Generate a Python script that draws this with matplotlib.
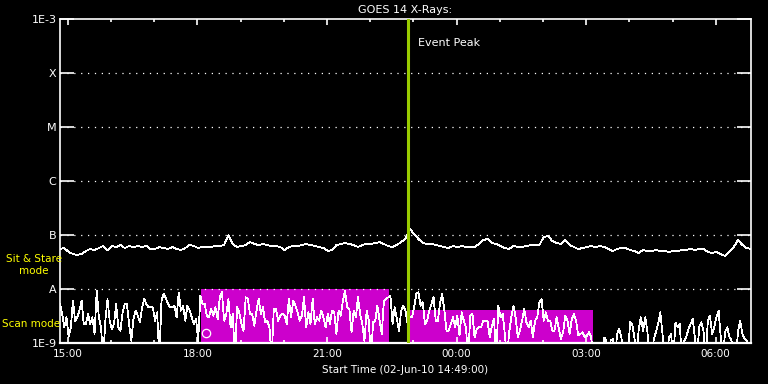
import numpy as np
import matplotlib
matplotlib.use("Agg")
import matplotlib.pyplot as plt
from matplotlib.ticker import FixedLocator, NullLocator

# ---- data -------------------------------------------------------------
start_hour = 14 + 49 / 60.0          # 02-Jun-10 14:49:00
span_hours = 16.0

# GOES long channel (1-8 A), 6-minute samples, units of 1e-8 W/m^2
upper_flux = [
    5.50, 5.74, 4.84, 4.45, 4.26, 4.45, 5.06, 5.50, 5.27, 5.74,
    6.25, 5.27, 6.25, 5.99, 6.53, 5.74, 6.25, 5.99, 6.25, 5.99,
    6.25, 5.50, 5.50, 5.99, 5.74, 5.50, 5.99, 5.50, 5.27, 5.74,
    6.53, 6.25, 5.74, 5.99, 5.99, 5.99, 6.25, 6.25, 6.53, 10.0,
    6.81, 5.99, 6.25, 6.53, 7.41, 6.81, 6.53, 6.81, 6.53, 6.25,
    6.25, 5.99, 5.27, 5.99, 6.25, 6.25, 6.53, 6.81, 6.53, 6.25,
    5.99, 5.74, 5.06, 5.27, 6.53, 6.81, 7.10, 6.81, 6.53, 5.99,
    6.53, 6.81, 6.81, 7.10, 7.41, 6.81, 6.25, 5.99, 6.53, 7.41,
    8.43, 12.9, 10.4, 8.43, 7.10, 6.81, 6.81, 6.53, 6.25, 5.99,
    5.74, 6.25, 5.99, 6.25, 5.99, 5.99, 5.99, 6.81, 8.07, 8.43,
    7.10, 6.81, 6.25, 5.74, 5.50, 6.25, 5.99, 5.99, 6.25, 6.53,
    6.53, 6.53, 9.18, 9.58, 7.74, 7.10, 6.81, 8.07, 6.53, 5.99,
    5.50, 5.74, 5.99, 6.25, 5.99, 6.25, 5.99, 5.50, 5.06, 5.50,
    5.74, 5.74, 5.27, 5.06, 4.64, 5.27, 5.06, 5.06, 5.27, 5.06,
    5.06, 4.84, 5.06, 5.06, 5.27, 5.27, 5.50, 5.27, 5.50, 5.50,
    4.84, 4.64, 4.84, 4.45, 4.08, 4.84, 5.99, 8.07, 6.53, 5.74, 5.50,
]

# GOES short channel (0.5-4 A), 3-minute samples, units of 1e-9 W/m^2
lower_flux = [
    5.27, 3.44, 1.95, 2.99, 1.3, 1.95, 6.08, 2.59, 2.99, 3.97,
    6.08, 2.25, 2.25, 3.44, 2.25, 2.99, 1.47, 9.3, 2.99, 1.95,
    0.5, 2.59, 6.53, 2.59, 1.82, 2.25, 5.27, 1.95, 1.69, 3.70,
    5.27, 5.27, 2.25, 1.10, 2.78, 3.97, 3.21, 2.41, 4.57, 6.53,
    5.27, 4.57, 4.57, 4.57, 2.59, 3.70, 0.5, 6.08, 8.08, 6.81,
    5.27, 4.57, 4.57, 4.91, 2.99, 8.67, 3.97, 4.91, 2.59, 4.91,
    4.08, 2.99, 2.25, 2.78, 1.10, 7.53, 5.27, 5.27, 3.21, 2.99,
    4.26, 3.21, 4.57, 2.78, 7.01, 8.67, 2.59, 3.44, 6.53, 1.95,
    3.44, 0.5, 4.57, 3.70, 2.25, 1.69, 7.01, 6.53, 3.44, 3.44,
    2.09, 3.97, 6.53, 3.44, 4.57, 2.41, 2.59, 1.95, 0.5, 4.26,
    4.26, 2.59, 3.21, 3.44, 3.21, 2.25, 6.53,
    2.99, 6.08, 4.91, 3.70, 2.59, 3.21, 7.01, 1.95, 3.70, 2.25,
    6.53, 2.25, 2.99, 2.59, 3.97, 2.99, 1.95, 3.44, 2.25, 3.97,
    3.70, 1.47, 3.97, 3.21, 6.08, 9.3, 4.57, 4.26, 1.58, 3.97,
    2.99, 7.01, 3.44, 2.25, 1.10, 3.97, 2.59, 0.5, 2.41, 2.59,
    4.91, 2.59, 1.47, 6.08, 6.53, 7.01, 7.53, 2.25, 4.57, 2.78,
    1.69, 3.97, 4.91, 3.97, 2.25, 2.99, 2.99, 4.57, 8.08, 8.67,
    4.91, 5.66, 2.25, 2.59, 3.97, 5.27, 7.01, 2.59, 2.59, 5.66,
    8.08, 3.97, 1.69, 1.69, 2.25, 2.99, 1.95, 3.21, 1.37, 3.70,
    2.59, 1.95, 0.5, 3.21, 3.44, 1.27, 1.82, 1.95, 1.95, 2.59,
    2.59, 2.59, 1.27, 2.09, 2.78, 0.5, 4.91, 2.99, 3.44, 1.47,
    0.5, 1.58, 2.99, 4.91, 2.99, 1.27, 1.69,
    2.59, 4.26, 2.41, 1.95, 2.59, 1.27, 2.59, 2.99, 5.66, 6.53,
    2.59, 3.70, 2.59, 2.59, 1.69, 1.69, 2.99, 1.82, 1.19, 1.58,
    3.21, 2.59, 1.47, 2.78, 3.44, 2.59, 1.37, 1.47, 1.58, 1.27,
    1.37, 1.58, 1.27, 0.5, 0.5, 0.5, 0.5, 0.5, 1.27, 1.10,
    0.5, 1.10, 1.19, 0.5, 1.47, 1.82, 1.27, 0.5, 0.5, 0.5,
    2.5, 2.2, 1.27, 0.5, 1.82, 2.99, 1.69, 2.99, 1.69, 0.5,
    0.5, 1.19, 1.6, 2.25, 3.70, 1.5, 0.5, 0.5, 1.27, 1.47,
    0.5, 2.4, 1.95, 2.25, 0.5, 1.10, 1.27, 1.8, 2.25, 2.78,
    1.27, 0.5, 2.0, 2.41, 1.69, 0.5, 2.59, 3.21, 1.47, 2.0,
    2.99, 3.97, 1.27, 0.5, 1.6, 1.95, 1.3, 1.10, 0.5, 0.5,
    1.69, 2.59, 1.5, 1.2, 1.10, 0.5, 0.5,
]

upper_step_min = 6
lower_step_min = 3

# observing-mode intervals (hours since 02-Jun 00:00) and flux tops
mode_start = [18.08, 22.90]
mode_end = [22.43, 27.155]
mode_top = [1.0e-8, 4.1e-9]

event_peak_hour = 22.87
marker_hour = [18.20]
marker_flux = [1.53e-9]

tick_hours = [15, 18, 21, 24, 27, 30]
tick_labels = ["15:00", "18:00", "21:00", "00:00", "03:00", "06:00"]
ytick_vals = [1e-9, 1e-8, 1e-7, 1e-6, 1e-5, 1e-4, 1e-3]
ytick_labels = ["1E-9", "A", "B", "C", "M", "X", "1E-3"]

# ---- figure -----------------------------------------------------------
W, H = 768, 384
fig = plt.figure(figsize=(W / 100, H / 100), dpi=100, facecolor="black")
ax = fig.add_axes([60 / W, 1 - 343 / H, (751 - 60) / W, (343 - 19) / H])
ax.set_facecolor("black")

upper_t = start_hour + np.arange(len(upper_flux)) * upper_step_min / 60.0
lower_t = start_hour + np.arange(len(lower_flux)) * lower_step_min / 60.0

MAG = "#CC00CC"
for s, e, top in zip(mode_start, mode_end, mode_top):
    ax.fill_between([s, e], [1e-9, 1e-9], [top, top], color=MAG, lw=0, zorder=1)

ax.plot(upper_t, np.array(upper_flux) * 1e-8, color="white", lw=0.55,
        antialiased=False, zorder=3)
ax.plot(lower_t, np.array(lower_flux) * 1e-9, color="white", lw=0.55,
        antialiased=False, zorder=3)
ax.plot(marker_hour, marker_flux, "o", mfc="none", mec="white", ms=6, mew=0.9, zorder=4)

ax.axvline(event_peak_hour, color="#99CC00", lw=2.2, zorder=5)

ax.set_yscale("log")
ax.set_ylim(1e-9, 1e-3)
ax.set_xlim(start_hour, start_hour + span_hours)

ax.yaxis.set_major_locator(FixedLocator(ytick_vals))
ax.yaxis.set_minor_locator(NullLocator())
ax.set_yticklabels(ytick_labels)
ax.xaxis.set_major_locator(FixedLocator(tick_hours))
ax.xaxis.set_minor_locator(FixedLocator(list(range(15, 31))))
ax.set_xticklabels(tick_labels)

for v in ytick_vals[1:-1]:
    ax.axhline(v, color="white", lw=0.9, linestyle=(0, (1, 4.5)), zorder=2)

for sp in ax.spines.values():
    sp.set_color("white")
    sp.set_linewidth(1.2)
ax.spines["bottom"].set_linewidth(1.6)

ax.tick_params(axis="both", which="both", direction="in", colors="white",
               top=True, right=True, width=1.2)
ax.tick_params(axis="y", which="major", length=10, labelsize=8, pad=2.5)
ax.tick_params(axis="x", which="major", length=4.3, labelsize=7.5, pad=4.5)
ax.tick_params(axis="x", which="minor", length=2.3)

ax.set_title("GOES 14 X-Rays:", color="white", fontsize=8, pad=4.5)
ax.set_xlabel("Start Time (02-Jun-10 14:49:00)", color="white", fontsize=7.5, labelpad=4)

fig.text(418 / W, 1 - 43 / H, "Event Peak", color="white", fontsize=8,
         ha="left", va="center")
YEL = "#FFFF00"
fig.text(34 / W, 1 - 259 / H, "Sit & Stare", color=YEL, fontsize=7.5,
         ha="center", va="center")
fig.text(34 / W, 1 - 271 / H, "mode", color=YEL, fontsize=7.5,
         ha="center", va="center")
fig.text(2 / W, 1 - 324 / H, "Scan mode", color=YEL, fontsize=7.5,
         ha="left", va="center")

fig.savefig("out.png", dpi=100, facecolor="black")
